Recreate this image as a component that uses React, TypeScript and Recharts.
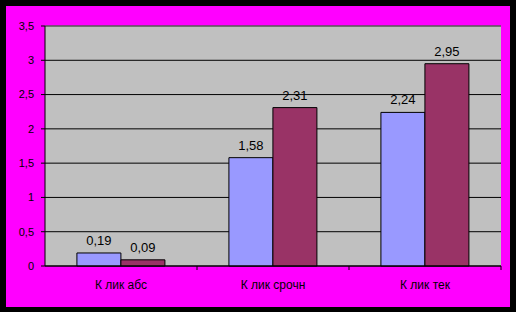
import React from 'react';
import { BarChart, Bar, XAxis, YAxis, CartesianGrid, ReferenceLine, LabelList } from 'recharts';

const categories = ['К лик абс', 'К лик срочн', 'К лик тек'];
const seriesA = [0.19, 1.58, 2.24];
const seriesB = [0.09, 2.31, 2.95];
const yTicks = [0, 0.5, 1, 1.5, 2, 2.5, 3, 3.5];

const data = categories.map((name, i) => ({ name, a: seriesA[i], b: seriesB[i] }));

const comma = (v: number) => String(v).replace('.', ',');
const fmt2 = (v: any) => Number(v).toFixed(2).replace('.', ',');

const FONT = '"Liberation Sans", Arial, sans-serif';

// label under the band, tick mark at the right edge of the band
const CategoryTick = (props: any) => {
  const { x, y, payload } = props;
  const half = payload?.offset || 76;
  return (
    <g>
      <line x1={x + half} x2={x + half} y1={y} y2={y + 4} stroke="#000" />
      <text x={x} y={y + 14} dy="0.71em" textAnchor="middle" fontSize={12} fontFamily={FONT} fill="#000">
        {payload.value}
      </text>
    </g>
  );
};

export default function App() {
  return (
    <div style={{ position: 'absolute', left: 0, top: 0, width: 516, height: 312, background: '#000' }}>
      <div style={{ position: 'absolute', left: 6, top: 6, width: 504, height: 301, background: '#FF00FF' }} />
      <div style={{ position: 'absolute', left: 0, top: 0 }}>
        <BarChart
          width={516}
          height={312}
          data={data}
          margin={{ top: 26, right: 15, left: 0, bottom: 0 }}
          barCategoryGap="21%"
          barGap={0}
        >
          <CartesianGrid vertical={false} stroke="#000" fill="#C0C0C0" fillOpacity={1} />
          <XAxis
            dataKey="name"
            height={46}
            stroke="#000"
            tickLine={false}
            tickSize={0}
            tickMargin={0}
            tick={<CategoryTick />}
            interval={0}
          />
          <YAxis
            domain={[0, 3.5]}
            ticks={yTicks}
            width={45}
            stroke="#000"
            tickSize={4}
            tickMargin={7}
            tickFormatter={comma}
            tick={{ fontSize: 11, fontFamily: FONT, fill: '#000' }}
            interval={0}
          />
          <YAxis yAxisId="r" orientation="right" width={0} domain={[0, 3.5]} tick={false} tickLine={false} stroke="#808080" />
          <ReferenceLine y={3.5} stroke="#808080" />
          <Bar dataKey="a" fill="#9999FF" stroke="#000" strokeWidth={1} isAnimationActive={false}>
            <LabelList dataKey="a" position="top" offset={8} formatter={fmt2} fontSize={13} fontFamily={FONT} fill="#000" />
          </Bar>
          <Bar dataKey="b" fill="#993366" stroke="#000" strokeWidth={1} isAnimationActive={false}>
            <LabelList dataKey="b" position="top" offset={8} formatter={fmt2} fontSize={13} fontFamily={FONT} fill="#000" />
          </Bar>
        </BarChart>
      </div>
    </div>
  );
}
